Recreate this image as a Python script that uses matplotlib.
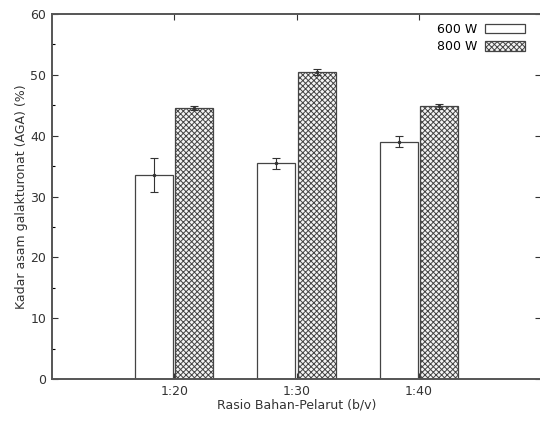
import numpy as np
import matplotlib
matplotlib.use("Agg")
import matplotlib.pyplot as plt

# data
ratios = ["1:20", "1:30", "1:40"]
aga_600 = [33.5, 35.5, 39.0]
err_600 = [2.8, 0.9, 0.9]
aga_800 = [44.5, 50.4, 44.8]
err_800 = [0.3, 0.5, 0.4]

plt.rcParams["font.family"] = "DejaVu Sans"
plt.rcParams["hatch.color"] = "#666666"
plt.rcParams["hatch.linewidth"] = 0.7

fig = plt.figure(figsize=(5.4, 4.22), dpi=100)
ax = fig.add_axes([52 / 540, 1 - 379 / 422, (541 - 52) / 540, (379 - 14) / 422])

x = np.arange(1, len(ratios) + 1)
w = 0.31

ax.bar(x - 0.165, aga_600, w, color="white", edgecolor="#444444", linewidth=0.9,
       label="600 W", zorder=2)
ax.bar(x + 0.165, aga_800, w, color="#f4f4f4", edgecolor="#444444", linewidth=0.9,
       hatch="xxxxxx", label="800 W", zorder=2)
ax.errorbar(x - 0.165, aga_600, yerr=err_600, fmt=".", color="#333333", ms=3,
            capsize=3, elinewidth=0.8, capthick=0.8, zorder=3)
ax.errorbar(x + 0.165, aga_800, yerr=err_800, fmt=".", color="#333333", ms=3,
            capsize=3, elinewidth=0.8, capthick=0.8, zorder=3)

ax.set_xlim(0, 4)
ax.set_ylim(0, 60)
ax.set_xticks(x)
ax.set_xticklabels(ratios)
ax.set_yticks(np.arange(0, 61, 10))
ax.set_yticks(np.arange(5, 60, 10), minor=True)
ax.tick_params(direction="in", top=True, right=True, labelsize=9, colors="#333333",
               length=4, width=0.8, pad=4)
ax.tick_params(which="minor", direction="in", right=False, length=2, width=0.8)
for s in ax.spines.values():
    s.set_color("#555555")
    s.set_linewidth(1.4)

ax.set_xlabel("Rasio Bahan-Pelarut (b/v)", fontsize=9, color="#333333", labelpad=1)
ax.set_ylabel("Kadar asam galakturonat (AGA) (%)", fontsize=9, color="#333333", labelpad=2)

ax.legend(loc="upper right", frameon=False, markerfirst=False, fontsize=9,
          handlelength=3.2, handleheight=0.8, borderaxespad=0.3, labelspacing=0.35,
          handletextpad=0.6, bbox_to_anchor=(0.985, 1.0))

fig.savefig("out.png", dpi=100)
